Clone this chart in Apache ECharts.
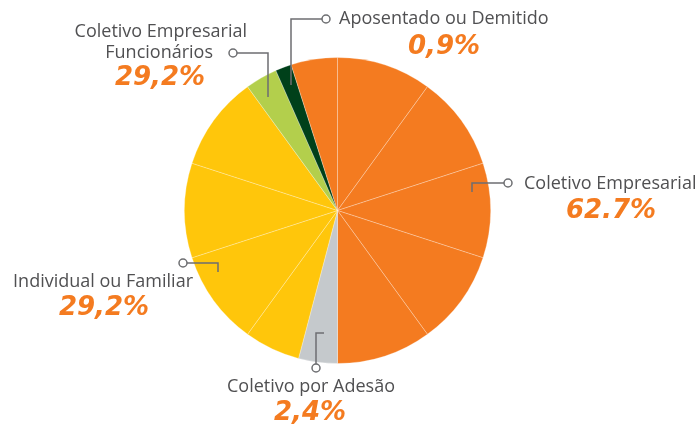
<!DOCTYPE html>
<html>
<head>
<meta charset="utf-8">
<script src="https://cdn.jsdelivr.net/npm/echarts@6/dist/echarts.min.js"></script>
<style>
  html, body { margin: 0; padding: 0; background: #fff; }
  #chart { width: 700px; height: 426px; }
</style>
</head>
<body>
<div id="chart"></div>
<script>
// fatias do gráfico, no sentido horário a partir do topo
const sliceGroups = [
  "Coletivo Empresarial", "Coletivo Empresarial", "Coletivo Empresarial",
  "Coletivo Empresarial", "Coletivo Empresarial",
  "Coletivo por Adesão",
  "Individual ou Familiar", "Individual ou Familiar",
  "Individual ou Familiar", "Individual ou Familiar",
  "Coletivo Empresarial Funcionários",
  "Aposentado ou Demitido",
  "Coletivo Empresarial"
];
const sliceValues = [10, 10, 10, 10, 10, 4.1, 5.9, 10, 10, 10, 3.4, 1.7, 4.9];

// cores por grupo
const groupColors = {
  "Coletivo Empresarial": "#F47B20",
  "Coletivo por Adesão": "#C5C9CC",
  "Individual ou Familiar": "#FFC60B",
  "Coletivo Empresarial Funcionários": "#B3CF4C",
  "Aposentado ou Demitido": "#00401A"
};

// textos dos rótulos
const labelNames = [
  "Aposentado ou Demitido",
  "Coletivo Empresarial\nFuncionários",
  "Coletivo Empresarial",
  "Individual ou Familiar",
  "Coletivo por Adesão"
];
const labelPercents = ["0,9%", "29,2%", "62.7%", "29,2%", "2,4%"];

const grey = "#6d6e71";
const textColor = "#505052";
const orange = "#F47B20";
const nameFont = '18px "Open Sans", sans-serif';
const pctFont = 'italic bold 26px "DejaVu Sans", sans-serif';

// linhas de chamada: pontos da polilinha (começa no círculo)
const leaders = [
  [[326, 19], [291, 19], [291, 85]],
  [[233, 53], [268, 53], [268, 97]],
  [[508, 183], [472, 183], [472, 192]],
  [[183, 263], [218, 263], [218, 272]],
  [[316, 368], [316, 333], [324, 333]]
];

// posições dos textos
const nameLayout = [
  { x: 339, y: 19, align: "left" },
  { x: 247, y: 32, align: "right", lh: 21 },
  { x: 524, y: 184, align: "left" },
  { x: 193, y: 282, align: "right" },
  { x: 311, y: 387, align: "center" }
];
const pctLayout = [
  { x: 444, y: 47 },
  { x: 160, y: 78 },
  { x: 611, y: 211 },
  { x: 104, y: 308 },
  { x: 310, y: 413 }
];

const graphics = [];
leaders.forEach((pts) => {
  graphics.push({
    type: "polyline",
    shape: { points: pts },
    style: { stroke: grey, lineWidth: 1.5, fill: null },
    z: 10
  });
  graphics.push({
    type: "circle",
    shape: { cx: pts[0][0], cy: pts[0][1], r: 4 },
    style: { fill: "#fff", stroke: grey, lineWidth: 1.5 },
    z: 11
  });
});
labelNames.forEach((name, i) => {
  const l = nameLayout[i];
  if (name.indexOf("\n") >= 0) {
    // texto de duas linhas
    name.split("\n").forEach((line, j) => {
      graphics.push({
        type: "text",
        x: j === 0 ? l.x : l.x - 34,
        y: l.y + j * l.lh,
        style: { text: line, font: nameFont, fill: textColor, align: l.align, verticalAlign: "middle" },
        z: 12
      });
    });
  } else {
    graphics.push({
      type: "text",
      x: l.x,
      y: l.y,
      style: { text: name, font: nameFont, fill: textColor, align: l.align, verticalAlign: "middle" },
      z: 12
    });
  }
  graphics.push({
    type: "text",
    x: pctLayout[i].x,
    y: pctLayout[i].y,
    style: { text: labelPercents[i], font: pctFont, fill: orange, align: "center", verticalAlign: "middle" },
    z: 12
  });
});

const myChart = echarts.init(document.getElementById("chart"));
const option = {
  animation: false,
  series: [
    {
      type: "pie",
      center: [337.5, 210.5],
      radius: 153,
      startAngle: 90,
      clockwise: true,
      label: { show: false },
      labelLine: { show: false },
      itemStyle: { borderColor: "rgba(255,255,255,0.45)", borderWidth: 0.6 },
      data: sliceValues.map((v, i) => ({
        name: sliceGroups[i] + " " + i,
        value: v,
        itemStyle: { color: groupColors[sliceGroups[i]] }
      }))
    }
  ],
  graphic: graphics
};
myChart.setOption(option);
</script>
</body>
</html>
